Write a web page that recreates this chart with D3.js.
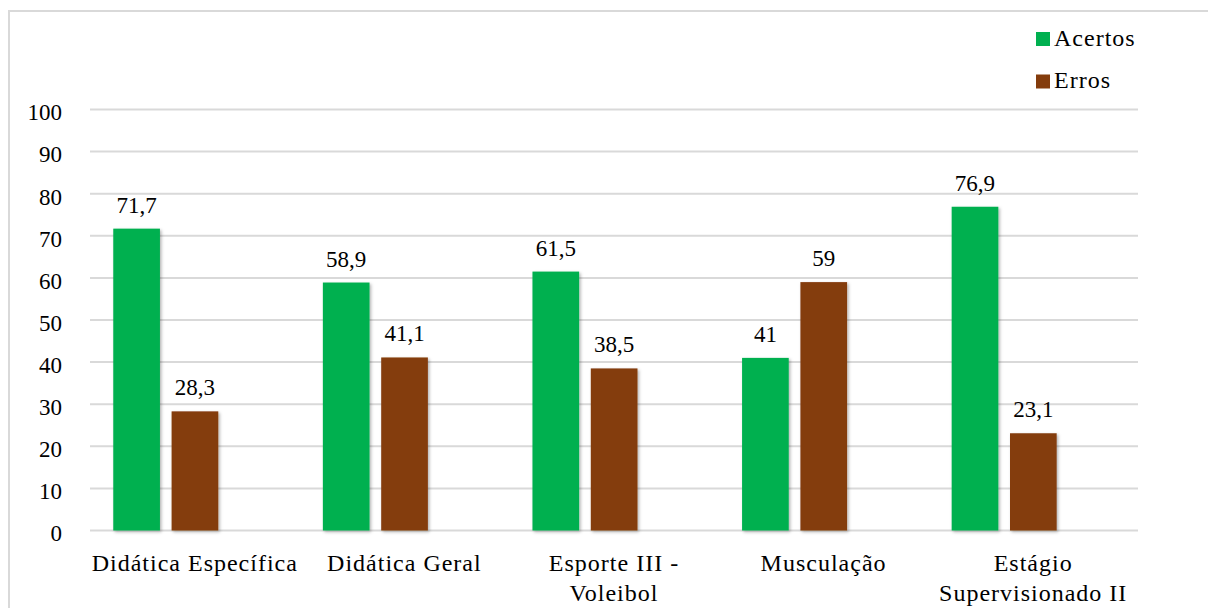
<!DOCTYPE html>
<html>
<head>
<meta charset="utf-8">
<script src="https://cdn.jsdelivr.net/npm/d3@7/dist/d3.min.js"></script>
<style>
  html, body { margin: 0; padding: 0; background: #fff; }
  svg { display: block; }
  svg text { font-family: "Liberation Serif", "Times New Roman", Tinos, "DejaVu Serif", serif; fill: #000; }
</style>
</head>
<body>
<script>
const categories = ["Didática Específica", "Didática Geral", "Esporte III - Voleibol", "Musculação", "Estágio Supervisionado II"];
const categoryLines = [["Didática Específica"], ["Didática Geral"], ["Esporte III -", "Voleibol"], ["Musculação"], ["Estágio", "Supervisionado II"]];
const seriesNames = ["Acertos", "Erros"];
const acertos = [71.7, 58.9, 61.5, 41, 76.9];
const erros = [28.3, 41.1, 38.5, 59, 23.1];
const valueLabels = {
  Acertos: ["71,7", "58,9", "61,5", "41", "76,9"],
  Erros: ["28,3", "41,1", "38,5", "59", "23,1"]
};
const yTicks = [0, 10, 20, 30, 40, 50, 60, 70, 80, 90, 100];
const colors = { Acertos: "#00B050", Erros: "#843C0C" };

const W = 1208, H = 608;
const FONT = "'Liberation Serif', 'Times New Roman', Tinos, 'DejaVu Serif', serif";
const svg = d3.select("body").append("svg").attr("width", W).attr("height", H)
  .attr("font-family", FONT);

const defs = svg.append("defs");
const f = defs.append("filter").attr("id", "shadow").attr("x", "-20%").attr("y", "-20%").attr("width", "140%").attr("height", "140%");
f.append("feDropShadow").attr("dx", 1.5).attr("dy", 1.5).attr("stdDeviation", 1.5)
  .attr("flood-color", "#000").attr("flood-opacity", 0.3);

// outer border
svg.append("rect").attr("x", 9).attr("y", 11).attr("width", W + 20).attr("height", H + 20)
  .attr("fill", "none").attr("stroke", "#D9D9D9").attr("stroke-width", 2);

const x0 = d3.scaleBand().domain(categories).range([90, 1138]).paddingInner(0).paddingOuter(0);
const bw = x0.bandwidth();
const x1 = d3.scaleBand().domain(seriesNames).range([bw * 0.111, bw * 0.612]).paddingInner(0.2).paddingOuter(0);
const y = d3.scaleLinear().domain([0, 100]).range([530.5, 109.5]);

// gridlines
svg.append("g").selectAll("line").data(yTicks).join("line")
  .attr("x1", 90).attr("x2", 1138)
  .attr("y1", d => y(d)).attr("y2", d => y(d))
  .attr("stroke", "#D9D9D9").attr("stroke-width", 2);

// y axis labels
const yAxis = d3.axisLeft(y).tickValues(yTicks).tickSize(0).tickPadding(0).tickFormat(d => String(d));
const yg = svg.append("g").attr("transform", "translate(62,0)").call(yAxis);
yg.attr("font-family", FONT).attr("font-size", 23);
yg.select(".domain").remove();
yg.selectAll("text").attr("font-size", 23).attr("fill", "#000").attr("dy", "0.45em");

const data = categories.map((c, i) => ({ c, i, Acertos: acertos[i], Erros: erros[i] }));

const groups = svg.append("g").selectAll("g").data(data).join("g")
  .attr("transform", d => `translate(${x0(d.c)},0)`);

groups.selectAll("rect").data(d => seriesNames.map(s => ({ s, v: d[s], i: d.i }))).join("rect")
  .attr("x", d => x1(d.s))
  .attr("width", x1.bandwidth())
  .attr("y", d => y(d.v))
  .attr("height", d => y(0) - y(d.v))
  .attr("fill", d => colors[d.s])
  .attr("filter", "url(#shadow)");

groups.selectAll("text.val").data(d => seriesNames.map(s => ({ s, v: d[s], i: d.i }))).join("text")
  .attr("class", "val")
  .attr("x", d => x1(d.s) + x1.bandwidth() / 2)
  .attr("y", d => y(d.v) - 16)
  .attr("text-anchor", "middle")
  .attr("font-size", 23)
  .text(d => valueLabels[d.s][d.i]);

// category labels
const cat = svg.append("g").selectAll("text").data(data).join("text")
  .attr("x", d => x0(d.c) + bw / 2)
  .attr("y", 571)
  .attr("text-anchor", "middle")
  .attr("font-size", 24)
  .attr("letter-spacing", 1);
cat.selectAll("tspan").data(d => categoryLines[d.i].map((t, k) => ({ t, k, x: x0(d.c) + bw / 2 }))).join("tspan")
  .attr("x", d => d.x)
  .attr("dy", d => d.k === 0 ? 0 : 30)
  .text(d => d.t);

// legend
const lg = svg.append("g").selectAll("g").data(seriesNames).join("g")
  .attr("transform", (d, i) => `translate(1036,${32 + i * 42.5})`);
lg.append("rect").attr("width", 14).attr("height", 14).attr("fill", d => colors[d]);
lg.append("text").attr("x", 18).attr("y", 13.5).attr("font-size", 24).attr("letter-spacing", 1).text(d => d);
</script>
</body>
</html>
